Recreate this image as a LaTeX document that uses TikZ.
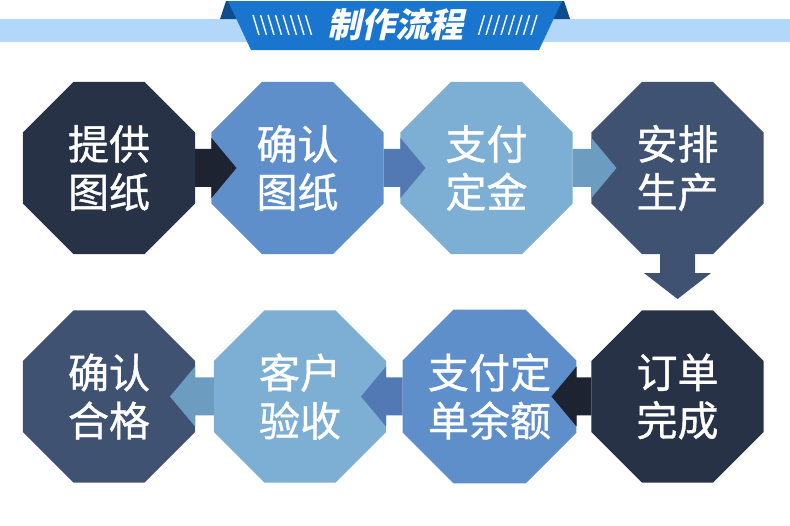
\documentclass[tikz,border=0pt]{standalone}
\usepackage{fontspec}
\newfontfamily\cjk{Noto Sans CJK SC}[FakeBold=0.9]
\newfontfamily\cjktitle{Noto Sans CJK SC}[FakeSlant=0.22]
\usetikzlibrary{shapes.geometric,calc}
\definecolor{navy}{HTML}{283246}
\definecolor{midblue}{HTML}{5E8FCB}
\definecolor{lightblue}{HTML}{7DAED3}
\definecolor{slate}{HTML}{3F5272}
\definecolor{arrdark}{HTML}{1D2331}
\definecolor{arrmid}{HTML}{5279B3}
\definecolor{arrlight}{HTML}{6C9DC0}
\definecolor{band}{HTML}{B3D7F8}
\definecolor{banner}{HTML}{1A75CF}
\definecolor{bannerdark}{HTML}{0E4C8C}
\tikzset{
  oct/.style={regular polygon, regular polygon sides=8, minimum size=186.2pt,
    inner sep=0pt, outer sep=0pt, text=white, align=center,
    font=\cjk\fontsize{41}{48}\selectfont},
  slash/.style={draw=white, line width=1.4pt},
  titletext/.style={text=white, inner sep=0pt, font=\cjktitle\bfseries\fontsize{34}{34}\selectfont}
}
\newcommand\flowR[3]{%
  \fill[#3] ($(#1.east)+(0,-19)$) -- ($(#2.west)+(0,-19)$) -- ($(#2.west)+(0,-30)$)
    -- ($(#2.west)+(25,0)$) -- ($(#2.west)+(0,30)$) -- ($(#2.west)+(0,19)$)
    -- ($(#1.east)+(0,19)$) -- cycle;}
\newcommand\flowL[3]{%
  \fill[#3] ($(#1.west)+(0,-19)$) -- ($(#2.east)+(0,-19)$) -- ($(#2.east)+(0,-30)$)
    -- ($(#2.east)+(-25,0)$) -- ($(#2.east)+(0,30)$) -- ($(#2.east)+(0,19)$)
    -- ($(#1.west)+(0,19)$) -- cycle;}
\begin{document}
\begin{tikzpicture}[x=1pt,y=-1pt]
\useasboundingbox (0,0) rectangle (790,525);
\fill[white] (0,0) rectangle (790,525);
% header
\fill[band] (0,19) rectangle (790,42);
\fill[bannerdark] (220,19) -- (226,1) -- (564,1) -- (570,19) -- cycle;
\fill[banner] (228,1) -- (562,1) -- (539,50) -- (251,50) -- cycle;
\foreach \i in {0,...,7}{
  \draw[slash] ({253+7.5*\i},15) -- ({259+7.5*\i},35);
  \draw[slash] ({537-7.5*\i},15) -- ({531-7.5*\i},35);
}
\node[titletext] (title) at (395,25) {制作流程};
% octagons
\node[oct, fill=navy]      (o1) at (109,168)   {提供\\图纸};
\node[oct, fill=midblue]   (o2) at (297.5,168) {确认\\图纸};
\node[oct, fill=lightblue] (o3) at (486.5,168) {支付\\定金};
\node[oct, fill=slate]     (o4) at (677.5,168) {安排\\生产};
\node[oct, fill=slate]     (o5) at (109,396.5)   {确认\\合格};
\node[oct, fill=lightblue] (o6) at (300,396.5)   {客户\\验收};
\node[oct, fill=midblue]   (o7) at (489.5,396.5) {支付定\\单余额};
\node[oct, fill=navy]      (o8) at (677.5,396.5) {订单\\完成};
% arrows
\flowR{o1}{o2}{arrdark}
\flowR{o2}{o3}{arrmid}
\flowR{o3}{o4}{arrlight}
\fill[slate] ($(o4.south)+(-17.5,0)$) -- ($(o4.south)+(-17.5,19)$) -- ($(o4.south)+(-33.5,19)$)
  -- ($(o4.south)+(0,45)$) -- ($(o4.south)+(33.5,19)$) -- ($(o4.south)+(17.5,19)$)
  -- ($(o4.south)+(17.5,0)$) -- cycle;
\flowL{o8}{o7}{arrdark}
\flowL{o7}{o6}{arrmid}
\flowL{o6}{o5}{arrlight}
\end{tikzpicture}
\end{document}
